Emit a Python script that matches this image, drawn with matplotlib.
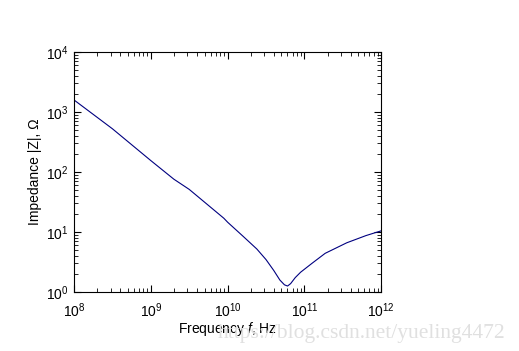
import matplotlib.pyplot as plt
import numpy as np

# values (log10 of frequency / impedance)
log_freq = [8.0, 8.5, 9.0, 9.3, 9.5, 9.95, 10.0, 10.2, 10.38, 10.5, 10.6, 10.68, 10.74,
            10.78, 10.82, 10.88, 10.95, 11.1, 11.27, 11.55, 11.8, 12.0]
log_imp = [3.2, 2.72, 2.19, 1.88, 1.71, 1.23, 1.163, 0.93, 0.717, 0.54, 0.36, 0.2, 0.12,
           0.10, 0.14, 0.24, 0.33, 0.48, 0.645, 0.82, 0.94, 1.02]

freq = 10 ** np.array(log_freq)
imp = 10 ** np.array(log_imp)

plt.rcParams['font.family'] = ['Liberation Sans', 'DejaVu Sans']
plt.rcParams['mathtext.fontset'] = 'custom'
plt.rcParams['mathtext.rm'] = 'Liberation Sans'
plt.rcParams['mathtext.it'] = 'Liberation Sans:italic'

fig = plt.figure(figsize=(5.19, 3.51), dpi=100)
ax = fig.add_axes([0.1426, 0.168, 0.592, 0.684])
ax.loglog(freq, imp, color='#000080', linewidth=0.8)
ax.set_xlim(1e8, 1e12)
ax.set_ylim(1e0, 1e4)
ax.tick_params(which='both', direction='in', top=True, right=True, labelsize=10)
ax.tick_params(which='major', length=5)
ax.tick_params(which='minor', length=3)
ax.tick_params(axis='x', pad=7)
ax.tick_params(axis='y', pad=4)
ax.set_xlabel('Frequency $f$, Hz', fontsize=10, labelpad=0)
ax.set_ylabel('Impedance |Z|, Ω', fontsize=10, labelpad=3)
for s in ax.spines.values():
    s.set_linewidth(0.8)

# faint watermark along the bottom edge
fig.text(0.42, 0.036, 'https://blog.csdn.net/yueling4472', fontsize=15.5,
         family='Liberation Serif', color='#e0e0e0')

fig.savefig('out.png', dpi=100)
